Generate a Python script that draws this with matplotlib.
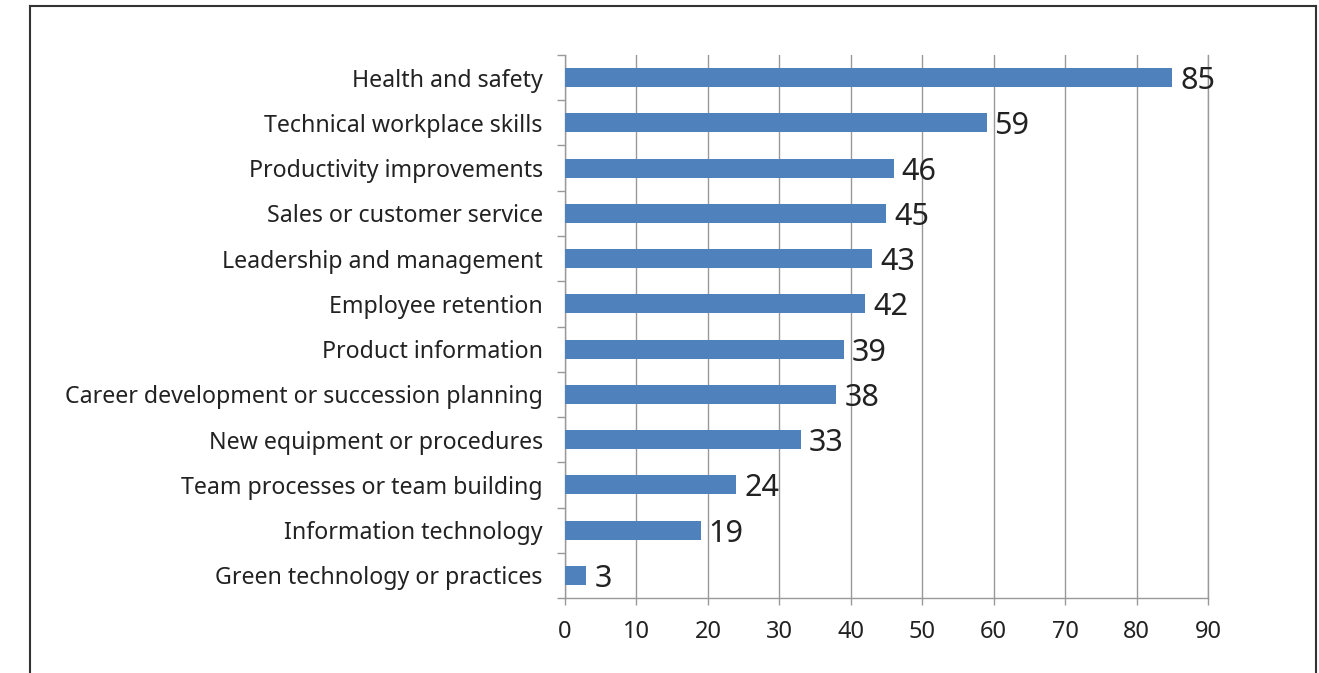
import matplotlib.pyplot as plt
from matplotlib.lines import Line2D

# Training topics and the share of respondents (%)
topics = [
    'Health and safety',
    'Technical workplace skills',
    'Productivity improvements',
    'Sales or customer service',
    'Leadership and management',
    'Employee retention',
    'Product information',
    'Career development or succession planning',
    'New equipment or procedures',
    'Team processes or team building',
    'Information technology',
    'Green technology or practices',
]
values = [85, 59, 46, 45, 43, 42, 39, 38, 33, 24, 19, 3]
x_ticks = list(range(0, 100, 10))

plt.rcParams['font.family'] = ['Noto Sans', 'DejaVu Sans']

fig = plt.figure(figsize=(13.19, 6.73), dpi=100)
ax = fig.add_axes([0.4284, 0.1114, 0.4874, 0.8069])

# reverse so the first topic sits on top
y = list(range(len(topics)))[::-1]
ax.barh(y, values, height=0.42, color='#4F81BD', zorder=3)

for yi, v in zip(y, values):
    ax.text(v + 1.1, yi, str(v), va='center_baseline', ha='left', fontsize=22, color='#222222')

ax.set_xlim(0, 90)
ax.set_ylim(-0.5, len(topics) - 0.5)
ax.set_xticks(x_ticks)
ax.set_xticklabels([str(t) for t in x_ticks], fontsize=17, color='#222222')
ax.set_yticks(y)
ax.set_yticklabels(topics, fontsize=16.7, color='#222222')
ax.set_yticks([i - 0.5 for i in range(len(topics) + 1)], minor=True)

ax.tick_params(axis='y', which='major', length=0, pad=16)
ax.tick_params(axis='y', which='minor', length=6, color='#999999', width=1)
ax.tick_params(axis='x', length=5, color='#999999', width=1, pad=11)

ax.grid(axis='x', color='#999999', linewidth=1, zorder=0)
ax.spines['top'].set_visible(False)
for side in ['left', 'bottom', 'right']:
    ax.spines[side].set_color('#999999')
    ax.spines[side].set_linewidth(1)

# outer frame, open at the bottom edge
W, H = 1319, 673
fx0, fx1, fy = 29.5 / W, 1316 / W, 1 - 6 / H
for xs, ys in [([fx0, fx1], [fy, fy]), ([fx0, fx0], [0, fy]), ([fx1, fx1], [0, fy])]:
    fig.add_artist(Line2D(xs, ys, transform=fig.transFigure, color='#333333', linewidth=1.5))

fig.savefig('out.png', dpi=100)
